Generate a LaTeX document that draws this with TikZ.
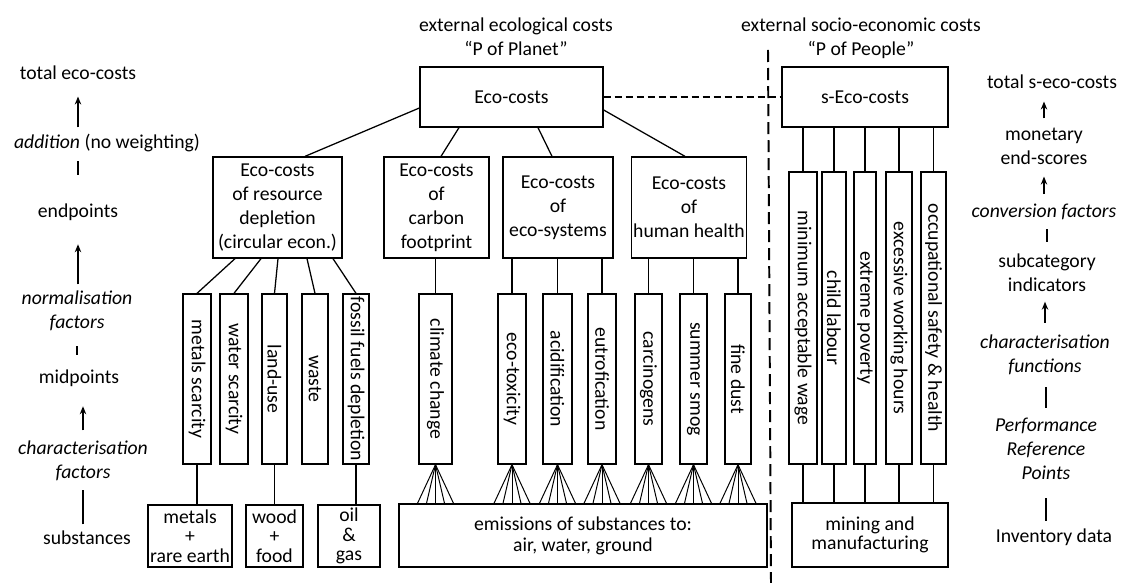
\documentclass[tikz,border=0pt]{standalone}
\usepackage{fontspec}
\setmainfont{Carlito}
\usetikzlibrary{arrows.meta, calc}

\begin{document}
\begin{tikzpicture}[x=0.025cm, y=-0.025cm, >={Stealth[length=2mm, width=1.6mm]}, line width=0.9pt, font=\fontsize{14}{17}\selectfont,
    box/.style={rectangle, draw, align=center, inner sep=1pt},
    vbox/.style={rectangle, draw, rotate=-90, inner sep=0pt},
    envbox/.style={vbox, minimum width=4.25cm},
    socbox/.style={vbox, minimum width=7.3cm},
    subbox/.style={box, font=\fontsize{14}{14}\selectfont},
    lbl/.style={align=center, inner sep=0pt},
    ilbl/.style={lbl, font=\fontsize{14}{17}\selectfont\itshape},
    fan/.style={line width=0.7pt},
    divider/.style={line width=1.4pt, dash pattern=on 0.3cm off 0.15cm}]

    \useasboundingbox (0,0) rectangle (1121,583);

    \node[lbl] (ecohead) at (516,37) {external ecological costs\\“P of Planet”};
    \node[lbl] (sochead) at (861,38) {external socio-economic costs\\“P of People”};

    \node[box, minimum width=4.575cm, minimum height=1.5cm] (eco) at (511.5,97) {Eco-costs};
    \node[box, minimum width=4.15cm, minimum height=1.5cm] (seco) at (865,97) {s-Eco-costs};

    \node[box, minimum width=3.225cm, minimum height=2.525cm] (res) at (277.5,207.5) {Eco-costs\\of resource\\depletion\\(circular econ.)};
    \node[box, minimum width=2.625cm, minimum height=2.525cm] (carb) at (436.5,207.5) {Eco-costs\\of\\carbon\\footprint};
    \node[box, minimum width=2.75cm, minimum height=2.525cm] (esys) at (558,207.5) {Eco-costs\\of\\eco-systems};
    \node[box, minimum width=2.85cm, minimum height=2.525cm] (hh) at (689,207.5) {Eco-costs\\of\\human health};

    \node[envbox, minimum height=0.7cm] (metS) at (197,379) {metals scarcity};
    \node[envbox, minimum height=0.7cm] (watS) at (234,379) {water scarcity};
    \node[envbox, minimum height=0.625cm] (land) at (274.5,379) {land-use};
    \node[envbox, minimum height=0.65cm] (waste) at (315,379) {waste};
    \node[envbox, minimum height=0.65cm] (fossil) at (356,379) {fossil fuels depletion};
    \node[envbox, minimum height=0.825cm] (clim) at (435.5,379) {climate change};
    \node[envbox, minimum height=0.7cm] (etox) at (512,379) {eco-toxicity};
    \node[envbox, minimum height=0.725cm] (acid) at (557.5,379) {acidification};
    \node[envbox, minimum height=0.7cm] (eutr) at (602,379) {eutrofication};
    \node[envbox, minimum height=0.675cm] (carc) at (648.5,379) {carcinogens};
    \node[envbox, minimum height=0.675cm] (smog) at (693.5,379) {summer smog};
    \node[envbox, minimum height=0.65cm] (dust) at (738,379) {fine dust};

    \node[socbox, minimum height=0.7cm] (minw) at (803,318) {minimum acceptable wage};
    \node[socbox, minimum height=0.6cm] (child) at (834,318) {child labour};
    \node[socbox, minimum height=0.55cm] (pov) at (865,318) {extreme poverty};
    \node[socbox, minimum height=0.65cm] (hours) at (899,318) {excessive working hours};
    \node[socbox, minimum height=0.625cm] (occ) at (933.5,318) {occupational safety \& health};

    \node[subbox, minimum width=2.1cm, minimum height=1.55cm] (mre) at (190,536) {metals\\+\\rare earth};
    \node[subbox, minimum width=1.425cm, minimum height=1.55cm] (wood) at (274.5,536) {wood\\+\\food};
    \node[subbox, minimum width=1.55cm, minimum height=1.55cm] (oil) at (349,536) {oil\\\&\\gas};
    \node[box, font=\fontsize{14}{15}\selectfont, minimum width=9.2cm, minimum height=1.575cm] (emis) at (583,535.5) {emissions of substances to:\\air, water, ground};
    \node[subbox, minimum width=3.9cm, minimum height=1.6cm] (mine) at (870,535) {mining and\\manufacturing};

    \node[lbl] (tot) at (78,73) {total eco-costs};
    \node[lbl] (add) at (107,143) {\textit{addition} (no weighting)};
    \node[lbl] (endp) at (78,212) {endpoints};
    \node[ilbl] (norm) at (77,311) {normalisation\\factors};
    \node[lbl] (mid) at (79,378) {midpoints};
    \node[ilbl] (charf) at (83,461) {characterisation\\factors};
    \node[lbl] (subs) at (87,538) {substances};

    \node[lbl] (stot) at (1052,82) {total s-eco-costs};
    \node[lbl] (mon) at (1044,146.5) {monetary\\end-scores};
    \node[ilbl] (conv) at (1044,212) {conversion factors};
    \node[lbl] (subc) at (1047,273) {subcategory\\indicators};
    \node[ilbl] (chfn) at (1045,354.5) {characterisation\\functions};
    \node[ilbl] (perf) at (1046,449) {Performance\\Reference\\Points};
    \node[lbl] (inv) at (1054,537) {Inventory data};

    \coordinate (dtop) at (768,50);
    \coordinate (dbot) at (771,583);

    \draw[->, shorten <=0.15cm, shorten >=0.4cm] (add.north -| tot.south) -- (tot.south);
    \draw[shorten <=0.7cm, shorten >=0.2cm] (endp.north) -- (endp.north |- add.south);
    \draw[->, shorten <=0.15cm, shorten >=0.58cm] (norm.north -| endp.south) -- (endp.south);
    \draw[shorten <=0.35cm, shorten >=0.35cm] (mid.north -| norm.south) -- (norm.south);
    \draw[->, shorten <=0.25cm, shorten >=0.48cm] (charf.north) -- (charf.north |- mid.south);
    \draw[shorten <=0.15cm, shorten >=0.2cm] (subs.north -| charf.south) -- (charf.south);

    \draw[->, shorten <=0.23cm, shorten >=0.3cm] (mon.north) -- (mon.north |- stot.south);
    \draw[->, shorten <=0.23cm, shorten >=0.28cm] (conv.north) -- (conv.north |- mon.south);
    \draw[shorten <=0.3cm, shorten >=0.2cm] (subc.north) -- (subc.north |- conv.south);
    \draw[->, shorten <=0.28cm, shorten >=0.23cm] (chfn.north) -- (chfn.north |- subc.south);
    \draw[shorten <=0.25cm, shorten >=0.3cm] (perf.north) -- (perf.north |- chfn.south);
    \draw[shorten <=0.18cm, shorten >=0.45cm] (inv.north -| perf.south) -- (perf.south);

    \draw ($(eco.west)+(0,11)$) -- ($(res.north)+(27.5,0)$);
    \draw ($(eco.south)+(-52.5,0)$) -- ($(carb.north)+(4.5,0)$);
    \draw ($(eco.south)+(26.5,0)$) -- ($(esys.north)+(-6,0)$);
    \draw ($(eco.east)+(0,13)$) -- ($(hh.north)+(-4,0)$);
    \draw[dash pattern=on 0.175cm off 0.1cm] (eco) -- (seco);
    \draw[divider] (dtop) -- (dbot);

    \foreach \bx/\dx in {metS/-42.5, watS/-16.5, land/0.5, waste/29.5, fossil/55.5}
        \draw ($(res.south)+(\dx,0)$) -- (\bx.west);
    \draw (carb.south -| clim.west) -- (clim.west);
    \foreach \bx in {etox, acid, eutr}
        \draw (esys.south -| \bx.west) -- (\bx.west);
    \foreach \bx in {carc, smog, dust}
        \draw (hh.south -| \bx.west) -- (\bx.west);
    \foreach \bx in {minw, child, pov, hours, occ} {
        \draw (seco.south -| \bx.west) -- (\bx.west);
        \draw (\bx.east) -- (\bx.east |- mine.north);
    }

    \draw (metS.east) -- (metS.east |- mre.north);
    \draw (land.east) -- (land.east |- wood.north);
    \draw (fossil.east) -- (fossil.east |- oil.north);

    \foreach \bx in {clim, etox, acid, eutr, carc, smog, dust}
        \foreach \dx in {-18, -9, 0, 9, 18}
            \draw[fan] (\bx.east) -- ($(\bx.east |- emis.north)+(\dx,0)$);

\end{tikzpicture}
\end{document}
